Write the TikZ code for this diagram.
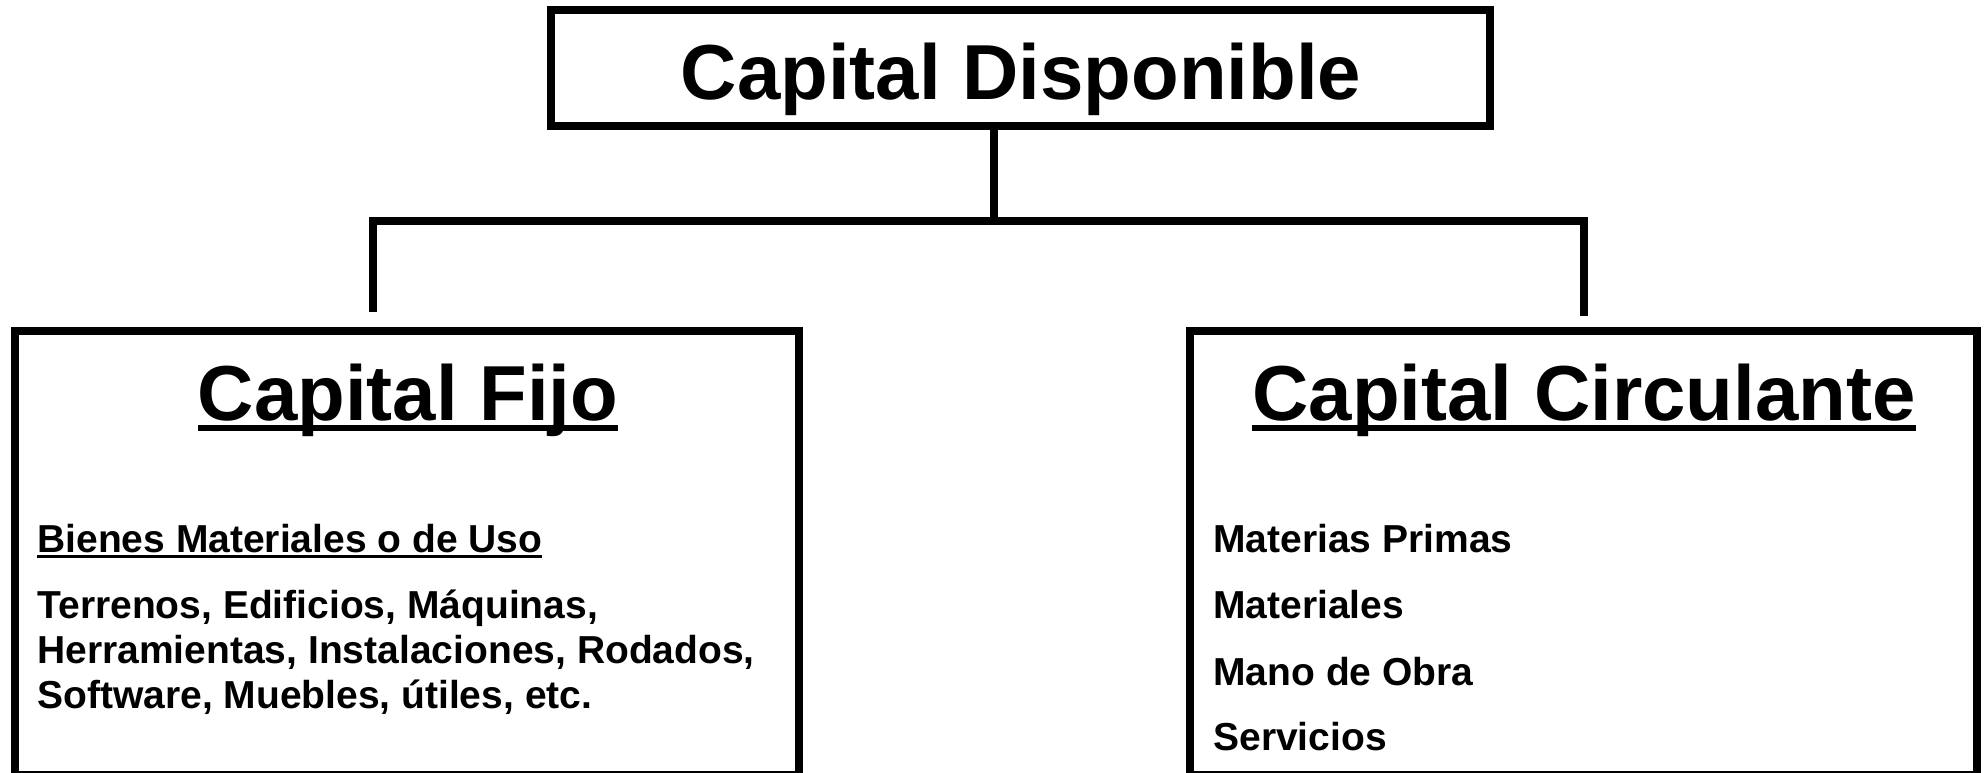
\documentclass[tikz,border=0pt]{standalone}
\usepackage{fontspec}
\setmainfont{Liberation Sans}
\usepackage{tikz}
\usetikzlibrary{positioning}
\newsavebox{\textosub}
\newcommand{\subrayado}[1]{\sbox{\textosub}{#1}\rlap{\rule[-0.145em]{\wd\textosub}{0.08em}}\usebox{\textosub}}
\tikzstyle{caja} = [draw, line width=4pt, rectangle, inner sep=0pt]
\tikzstyle{titulo} = [font=\fontsize{39}{47}\selectfont\bfseries, inner sep=0pt, anchor=base]
\tikzstyle{texto} = [font=\fontsize{19.5}{22.5}\selectfont\bfseries, inner sep=0pt, anchor=base west]
\tikzstyle{conector} = [line width=4pt]

\begin{document}
\begin{tikzpicture}[x=0.5pt, y=-0.5pt]
	\useasboundingbox (0,0) rectangle (1986,772);
	\node [caja, minimum width=469.5pt, minimum height=58pt] (disponible) at (1020.5,68) {};
	\node [caja, minimum width=392pt, minimum height=222pt] (fijo) at (407,553) {};
	\node [caja, minimum width=393.5pt, minimum height=222pt] (circulante) at (1583.5,553) {};
	\node [titulo] (tDisponible) at (1021,99) {Capital Disponible};
	\node [titulo] (tFijo) at (408,420) {\subrayado{Capital Fijo}};
	\node [titulo] (tCirculante) at (1584,420) {\subrayado{Capital Circulante}};
	% conectores
	\coordinate (bus) at (994,221);
	\coordinate (finFijo) at (373,312);
	\coordinate (finCirculante) at (1584,316);
	\draw [conector] (disponible.south -| bus) -- (bus);
	\draw [conector] (finFijo) |- (bus) -| (finCirculante);
	% capital fijo
	\node [texto] (bienes) at (37,552) {\subrayado{Bienes Materiales o de Uso}};
	\node [texto] (terrenos) at (37,618) {Terrenos, Edificios, Máquinas,};
	\node [texto] (herramientas) at (37,663) {Herramientas, Instalaciones, Rodados,};
	\node [texto] (software) at (37,708) {Software, Muebles, útiles, etc.};
	% capital circulante
	\node [texto] (primas) at (1213,552) {Materias Primas};
	\node [texto] (materiales) at (1213,618) {Materiales};
	\node [texto] (obra) at (1213,685) {Mano de Obra};
	\node [texto] (servicios) at (1213,750) {Servicios};
\end{tikzpicture}
\end{document}
